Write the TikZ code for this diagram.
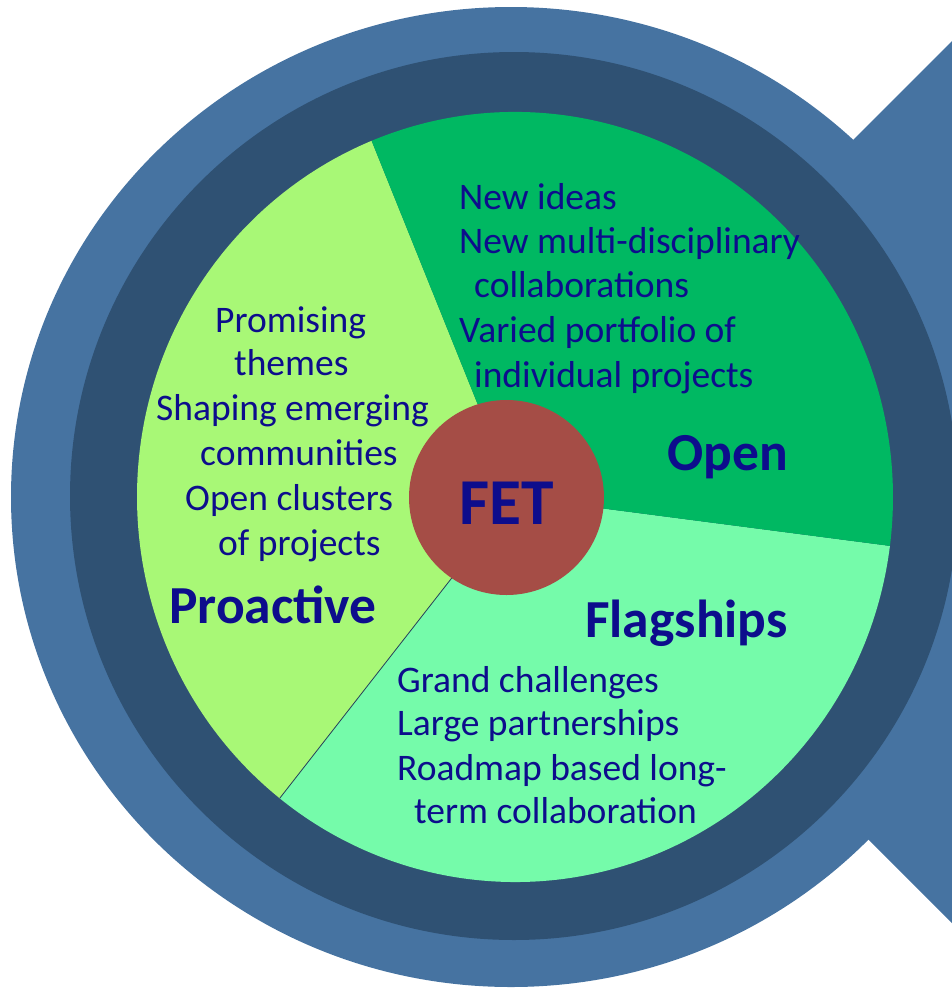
\documentclass[tikz,border=0pt]{standalone}
\usepackage{fontspec}
\setmainfont{Carlito}
\usetikzlibrary{calc}
\definecolor{outerblue}{HTML}{4673A1}
\definecolor{darkring}{HTML}{2F5173}
\definecolor{procol}{HTML}{A8F876}
\definecolor{opencol}{HTML}{00B862}
\definecolor{flagcol}{HTML}{75FBAA}
\definecolor{fetcol}{HTML}{A54D46}
\definecolor{textblue}{HTML}{0D0D8C}
\tikzset{
  txt/.style={anchor=base west, inner sep=0pt, text=textblue, font=\fontsize{37.5}{44}\selectfont},
  lbl/.style={anchor=base west, inner sep=0pt, text=textblue, font=\fontsize{53.5}{60}\selectfont\bfseries},
  divider/.style={draw=darkring!80!black, line width=0.8pt},
}
\begin{document}
\begin{tikzpicture}[x=1pt,y=-1pt]
\useasboundingbox (0,0) rectangle (952,989);
\clip (0,0) rectangle (952,989);
% tail shape
\fill[outerblue] (511,482) -- (1011,-18) -- (1511,482) -- (1011,982) -- cycle;
% rings
\fill[outerblue] (511,497) ellipse[x radius=500, y radius=490];
\fill[darkring] (514,496) circle[radius=444];
% pie
\coordinate (pc) at (515,497);
\fill[flagcol] (pc) -- ++(7.3:378 and 385) arc[start angle=7.3,end angle=128.5,x radius=378,y radius=385] -- cycle;
\fill[procol] (pc) -- ++(128.5:378 and 385) arc[start angle=128.5,end angle=247.7,x radius=378,y radius=385] -- cycle;
\fill[opencol] (pc) -- ++(247.7:378 and 385) arc[start angle=247.7,end angle=367.3,x radius=378,y radius=385] -- cycle;
\coordinate (divend) at ($(pc)+(128.5:378 and 385)$);
\draw[divider] (pc) -- (divend);
% centre
\node[circle, fill=fetcol, minimum size=195pt, inner sep=0pt] (fet) at (506.5,497.5) {};
\node[anchor=base west, inner sep=0pt, text=textblue, font=\fontsize{65.5}{70}\selectfont\bfseries] (fetlabel) at (459,524) {FET};
% Open
\node[txt] (o1) at (459,209) {New ideas};
\node[txt] (o2) at (459,253) {New multi-disciplinary};
\node[txt] (o3) at (474,297) {collaborations};
\node[txt] (o4) at (459,342) {Varied portfolio of};
\node[txt] (o5) at (474,387) {individual projects};
\node[lbl] (openlbl) at (667,470) {Open};
% Proactive
\node[txt] (p1) at (215,332) {Promising};
\node[txt] (p2) at (234,375) {themes};
\node[txt] (p3) at (156,420) {Shaping emerging};
\node[txt] (p4) at (200,465) {communities};
\node[txt] (p5) at (185,510) {Open clusters};
\node[txt] (p6) at (218,555) {of projects};
\node[lbl] (prolbl) at (169,623) {Proactive};
% Flagships
\node[lbl] (flaglbl) at (585,637) {Flagships};
\node[txt] (f1) at (397,692) {Grand challenges};
\node[txt] (f2) at (397,735) {Large partnerships};
\node[txt] (f3) at (397,780) {Roadmap based long-};
\node[txt] (f4) at (414,823) {term collaboration};
\end{tikzpicture}
\end{document}
